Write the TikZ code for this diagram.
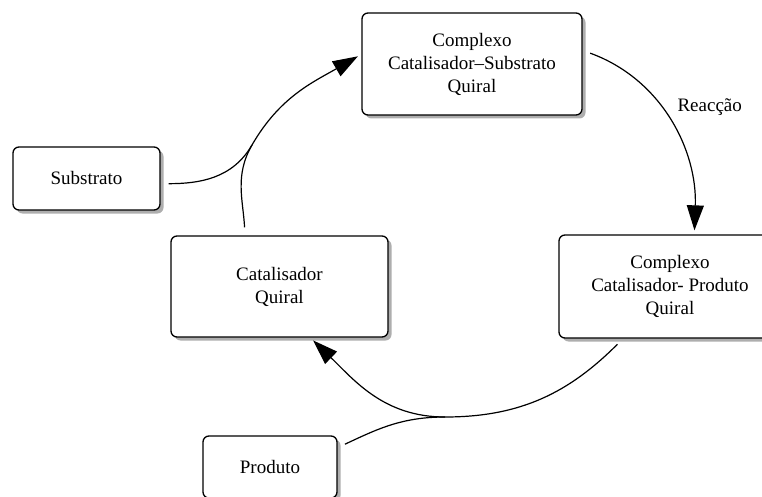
\documentclass[tikz,border=0pt]{standalone}
\usepackage{fontspec}
\setmainfont{Liberation Serif}
\usetikzlibrary{arrows.meta,shadows}
\begin{document}
\begin{tikzpicture}[x=1pt, y=1pt,
  font=\fontsize{19}{23}\selectfont,
  etapa/.style={draw, rectangle, rounded corners=6pt, line width=1.3pt, fill=white, align=center,
    drop shadow={shadow xshift=3.5pt, shadow yshift=-3.5pt, fill=black!45, opacity=0.7}},
  seta/.style={line width=1.2pt, -{Triangle[length=25pt, width=17pt]}, shorten >=4pt, shorten <=8pt},
  ramo/.style={line width=1.2pt, shorten <=8pt}]
\useasboundingbox (0,0) rectangle (762,-497);
\node (cplxs) [etapa, minimum width=220pt, minimum height=102pt] at (472,-64) {Complexo\\Catalisador–Substrato\\Quiral};
\node (cplxp) [etapa, minimum width=222pt, minimum height=103pt] at (670,-286.5) {Complexo\\Catalisador- Produto\\Quiral};
\node (catq) [etapa, minimum width=217pt, minimum height=101pt] at (279.5,-286.5) {Catalisador\\Quiral};
\node (subs) [etapa, minimum width=147pt, minimum height=63pt] at (86.5,-178.5) {Substrato};
\node (prod) [etapa, minimum width=134pt, minimum height=62pt] at (270,-467) {Produto};
\coordinate (jsub) at (252,-145);
\coordinate (jprod) at (445,-417);
% ciclo catalitico
\draw[seta] (catq.124) to[out=93, in=240] (jsub) to[out=60, in=210] (cplxs.175);
\draw[seta] (cplxs.7) to[out=-20, in=88] node[pos=0.42, right=14pt] {Reacção} (cplxp.65);
\draw[seta] (cplxp.228) to[out=225, in=0] (jprod) to[out=180, in=-44] (catq.-59);
% entrada e saida
\draw[ramo] (subs.-4) to[out=0, in=240] (jsub);
\draw[ramo] (prod.16) to[out=25, in=180] (jprod);
\end{tikzpicture}
\end{document}
